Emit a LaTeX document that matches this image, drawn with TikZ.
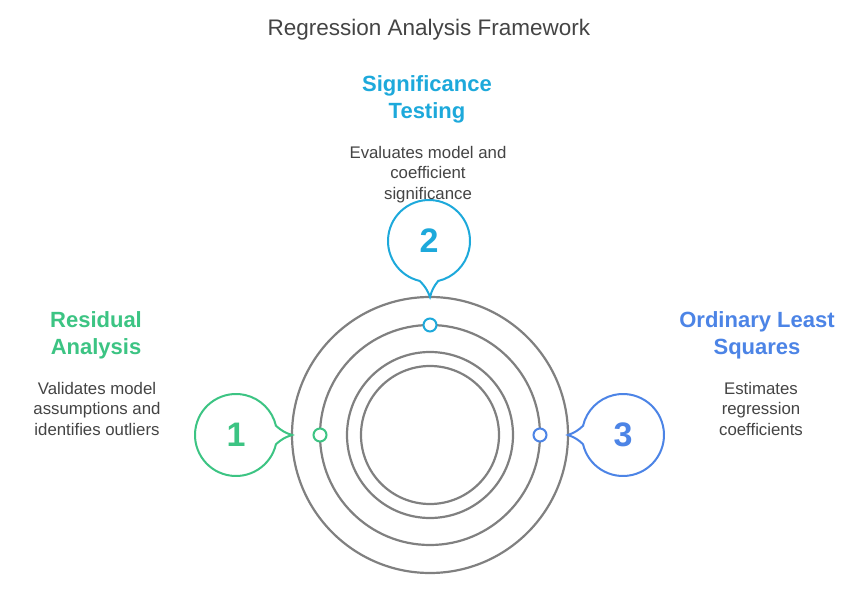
\documentclass[tikz,border=0pt]{standalone}
\usepackage{fontspec}
\setmainfont{Liberation Sans}
\definecolor{cgreen}{HTML}{3CC483}
\definecolor{ccyan}{HTML}{1DA9DB}
\definecolor{cblue}{HTML}{4C84E6}
\definecolor{cgray}{HTML}{808080}
\definecolor{ctext}{HTML}{444444}
\tikzset{
  ring/.style={circle, draw=cgray, line width=2.2pt, inner sep=0pt, outer sep=0pt},
  bubble/.style={circle, inner sep=0pt, outer sep=0pt, minimum size=82pt, font=\fontsize{34}{34}\selectfont\bfseries},
  bubbleline/.style={line width=2pt, fill=white, line join=miter},
  marker/.style={circle, draw, fill=white, line width=2pt, inner sep=0pt, outer sep=0pt, minimum size=13pt},
  heading/.style={align=center, font=\fontsize{22}{27}\selectfont\bfseries},
  desc/.style={align=center, text=ctext, font=\fontsize{16.8}{20.5}\selectfont},
}
\begin{document}
\begin{tikzpicture}[x=1pt,y=1pt]
\useasboundingbox (0,0) rectangle (868,-596);
\fill[white] (0,0) rectangle (868,-596);

\node[text=ctext, font=\fontsize{22.5}{26}\selectfont] (title) at (429,-30) {Regression Analysis Framework};

% rings
\node[ring, minimum size=276pt] (r1) at (430,-435) {};
\node[ring, minimum size=220pt] (r2) at (430,-435) {};
\node[ring, minimum size=166pt] (r3) at (430,-435) {};
\node[ring, minimum size=138pt] (r4) at (430,-435) {};

% tips
\coordinate (t1) at (r1.west);
\coordinate (t2) at (r1.north);
\coordinate (t3) at (r1.east);

% bubbles
\node[bubble] (b1) at (236,-435) {};
\node[bubble] (b2) at (429,-241) {};
\node[bubble] (b3) at (623,-435) {};

\draw[bubbleline, draw=cgreen] (b1.13) to[bend right=12] (t1) to[bend right=12] (b1.-13) arc[start angle=-13, end angle=-347, radius=41pt] -- cycle;
\draw[bubbleline, draw=ccyan] (b2.-77) to[bend right=12] (t2) to[bend right=12] (b2.-103) arc[start angle=-103, end angle=-437, radius=41pt] -- cycle;
\draw[bubbleline, draw=cblue] (b3.167) to[bend left=12] (t3) to[bend left=12] (b3.193) arc[start angle=193, end angle=527, radius=41pt] -- cycle;

\node[bubble, text=cgreen] at (b1) {1};
\node[bubble, text=ccyan] at (b2) {2};
\node[bubble, text=cblue] at (b3) {3};

% markers
\node[marker, draw=cgreen] (m1) at (r2.west) {};
\node[marker, draw=ccyan] (m2) at (r2.north) {};
\node[marker, draw=cblue] (m3) at (r2.east) {};

% texts
\node[heading, text=ccyan] (h2) at (427,-99.5) {Significance\\Testing};
\node[desc] (d2) at (428,-174.5) {Evaluates model and\\coefficient\\significance};

\node[heading, text=cgreen] (h1) at (96,-335) {Residual\\Analysis};
\node[desc] (d1) at (97,-408.5) {Validates model\\assumptions and\\identifies outliers};

\node[heading, text=cblue] (h3) at (757,-335) {Ordinary Least\\Squares};
\node[desc] (d3) at (761,-408.5) {Estimates\\regression\\coefficients};
\end{tikzpicture}
\end{document}
